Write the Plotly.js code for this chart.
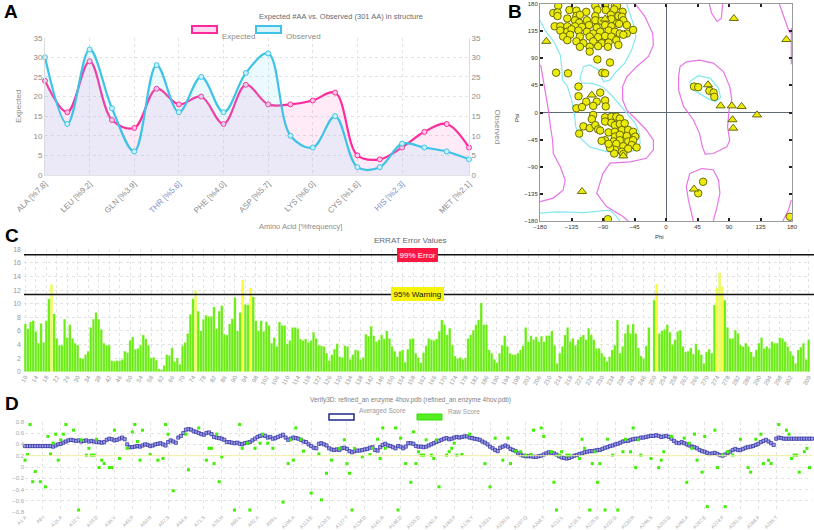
<!DOCTYPE html>
<html><head><meta charset="utf-8">
<script src="https://cdn.plot.ly/plotly-3.0.1.min.js"></script>
<style>html,body{margin:0;padding:0;background:#fff}#chart{width:814px;height:530px}</style>
</head><body><div id="chart"></div>
<script>
// ---------- Panel A data ----------
const aaIndex = [0,1,2,3,4,5,6,7,8,9,10,11,12,13,14,15,16,17,18,19];
const aaExpected = [24,16,29,14,12,22,18,20,13,23,18,18,19,21,5,4,7,11,13,7];
const aaObserved = [30,13,32,17,6,28,16,25,16,26,31,10,7,15,2,2,8,7,6,4];
const aaTickIdx = [0,2,4,6,8,10,12,14,16,19];
const aaTickText = ['ALA [%7.8]','LEU [%9.2]','GLN [%3.9]','<span style="color:#7d8fc8">THR [%5.6]</span>','PHE [%4.0]','ASP [%5.7]','LYS [%6.0]','CYS [%1.6]','<span style="color:#7d8fc8">HIS [%2.3]</span>','MET [%2.1]'];

// ---------- Panel B data (phi, psi in degrees) ----------
const ramaCirclePhi = [-154,-101,-87,-73,-70,-161,-155,-138,-128,-114,-98,-86,-74,-62,-155,-128,-123,-101,-79,-68,-63,-141,-130,-124,-113,-101,-92,-78,-61,-70,-159,-151,-141,-130,-120,-110,-99,-87,-78,-67,-56,-47,-151,-141,-135,-125,-113,-104,-94,-82,-73,-66,-56,-147,-137,-123,-109,-97,-87,-78,-61,-141,-128,-118,-104,-92,-82,-71,-68,-123,-109,-97,-83,-109,-98,-80,-157,-140,-91,-87,
 -125,-125,-94,-114,-99,-87,-128,-120,-104,-86,-104,-106,-87,-78,-71,-66,-118,-109,-101,-97,-87,-78,-73,-66,-59,-124,-94,-82,-73,-63,-54,-47,-73,-66,-56,-44,-87,-75,-66,-54,-47,-92,-71,-61,-49,-42,-73,-63,-74,-61,-80,-54,-82,
 40,46,62,68,69,53,46,-83,177];
const ramaCirclePsi = [177,177,178,178,177,165,166,170,169,167,170,170,171,167,160,160,162,160,162,160,159,156,153,149,153,153,152,155,153,148,143,143,143,143,142,145,141,145,143,147,145,137,136,134,138,136,134,131,134,136,134,131,131,126,129,126,126,125,127,126,129,120,118,115,118,115,116,120,112,109,109,110,109,101,88,83,66,65,66,65,
 43,27,33,18,18,20,7,9,11,10,-4,-11,-8,-7,-7,-10,-23,-26,-21,-28,-15,-17,-21,-19,-18,-35,-30,-33,-32,-29,-29,-32,-40,-37,-39,-40,-46,-48,-46,-48,-46,-47,-52,-56,-54,-58,-62,-65,-68,-69,-59,-60,-52,
 43,42,36,33,26,-115,-134,-177,-173];
const ramaTriPhi = [-171,-106,-87,97,172,60,78,94,108,130,95,96,-120,-61,40];
const ramaTriPsi = [118,29,155,156,121,46,11,11,10,-4,-12,-26,-131,-72,-127];
// contour outlines (null separates pieces)
const cyanPhi = [-180,-173,-159,-151,-149,-148,-141,-135,-131,-129,-124,-109,-85,-56,-42,-37,-38,-44,-56,-68,-78,-90,-104,-120,-123,-118,-109,-97,-89,-80,-71,-59,-49,-43,-46,-52,-56,null,
 -180,-156,-118,-80,-71,-66,null,
 34,46,63,75,78,71,63,52,41,35,34];
const cyanPsi = [153,137,115,95,76,54,44,21,-1,-23,-40,-57,-65,-67,-62,-51,-35,-18,-1,15,29,42,48,49,57,76,79,71,51,54,68,82,104,126,145,165,180,null,
 -167,-165,-166,-162,-172,-180,null,
 51,61,57,40,25,18,21,29,36,44,51];
const pinkPhi = [-179,-175,-171,-168,-165,-162,-161,-151,-144,-147,-161,-180,null,
 -44,-30,-19,-18,-25,-42,-56,-62,-62,-56,-42,-28,-18,-18,-28,-51,-80,-90,-99,-85,-61,-54,null,
 62,65,73,79,81,null,
 162,168,175,178,null,
 179,179,null,
 20,29,48,67.5,82,91,94,90,88,91,87,67.5,56,52,48,39,25,18,18,20,null,
 39,32,29,34,51,67.5,75,77,73,67.5,null,
 179,175,167];
const pinkPsi = [79,54,26,4,-24,-46,-68,-90,-112,-129,-142,-148,null,
 180,159,131,112,93,76,59,43,21,4,-12,-29,-46,-62,-76,-82,-84,-101,-134,-156,-173,-180,null,
 180,165,151,156,180,null,
 180,159,137,131,null,
 140,80,null,
 76,84,87,82,68,43,21,4,-24,-46,-57,-68,-69,-57,-35,-12,10,37,59,76,null,
 -180,-145,-123,-101,-93,-95,-112,-134,-156,-180,null,
 -145,-162,-180];
const ramaTicks = [-180,-135,-90,-45,0,45,90,135,180];

// ---------- Panel C data (ERRAT, residues 10..309) ----------
const erratStart = 10;
const erratValues = [
7.0,6.3,7.3,7.5,5.9,4.2,7.1,4.3,7.5,10.7,
12.8,8.5,4.9,3.9,3.9,7.7,5.0,6.9,4.9,4.2,
3.9,2.0,1.9,2.5,3.0,6.5,7.7,8.7,7.7,6.2,
4.2,3.9,3.9,1.6,1.5,1.6,1.6,1.8,3.0,2.8,
4.6,5.1,3.3,3.4,3.9,5.4,4.8,3.9,2.0,2.1,
1.7,0.4,0.3,0.9,2.5,2.4,3.5,1.5,2.0,1.1,
3.8,4.3,5.6,8.4,10.7,11.9,8.9,6.0,7.7,8.3,
8.1,8.1,9.5,6.3,8.9,9.7,5.5,5.4,7.0,7.8,
10.9,6.0,8.7,13.5,9.9,9.8,12.3,11.0,7.5,6.0,
7.5,5.9,7.3,6.8,4.2,5.0,3.7,7.3,6.8,6.8,
4.1,4.6,6.5,6.5,6.3,4.8,4.6,4.8,4.3,4.6,
5.8,4.9,3.9,3.8,3.7,2.7,1.6,2.5,3.3,4.1,
2.2,2.1,3.8,3.7,1.8,2.5,3.2,3.1,1.8,2.1,
5.5,5.2,6.7,5.3,4.4,4.7,5.4,4.8,6.0,4.9,
3.7,3.0,2.2,3.0,3.2,1.4,3.3,4.8,4.9,2.7,
2.1,1.3,2.8,3.8,4.9,4.7,4.6,4.8,5.9,7.6,6.9,5.4,6.4,3.9,2.3,1.9,2.1,1.8,2.0,
4.9,5.4,6.1,6.9,7.6,10.1,6.9,6.9,
3.2,2.7,1.8,1.3,2.7,3.9,
5.3,3.7,2.7,2.5,2.5,2.7,3.2,3.8,6.5,4.4,
5.3,4.7,5.1,4.4,5.2,4.4,5.3,5.3,6.0,
3.9,1.2,2.7,3.7,5.4,6.5,
4.4,4.9,3.9,4.7,5.1,5.4,4.7,6.4,5.4,4.7,
3.4,3.4,2.7,2.2,1.5,2.2,
3.2,3.9,7.6,2.7,3.7,
5.6,6.9,5.6,7.0,5.6,3.5,
2.3,1.9,3.8,6.5,
null,10.5,12.9,
5.6,6.0,6.2,6.9,5.8,4.0,4.7,5.9,6.1,3.7,2.9,3.0,3.5,2.6,4.1,3.2,2.5,1.2,2.9,3.3,2.7,
9.8,12.3,14.5,12.5,10.5,
6.5,4.9,4.9,6.1,5.6,3.9,3.7,4.2,3.7,2.9,2.2,3.2,4.2,5.0,3.4,3.7,3.4,4.4,4.2,4.2,5.0,4.9,4.4,3.7,3.0,2.4,1.2,3.2,3.6,4.2,1.8,4.7];
const erratWarning = 11.36;
const erratError = 17.19;

// ---------- Panel D data (Verify3D) ----------
const v3dAveraged = [
.37,.37,.37,.37,.37,.37,.37,.37,.37,.37,
.37,.36,.38,.40,.41,.43,.45,.47,.48,.47,
.46,.47,.45,.46,.47,.45,.46,.45,.44,.44,
.43,.44,.48,.50,.49,.47,.48,.50,.52,.49,
.40,.35,.35,.36,.37,.36,.38,.40,.39,.37,
.38,.40,.41,.42,.40,.38,.44,.47,.45,.43,
.52,.55,.60,.66,.67,.66,.63,.62,.60,.58,
.57,.60,.61,.58,.53,.52,.51,.50,.48,.44,
.44,.43,.42,.43,.41,.40,.42,.43,.44,.47,
.50,.53,.55,.56,.55,.52,.53,.50,.51,.53,
.55,.57,.52,.48,.50,.52,.51,.50,.48,.45,
.44,.40,.37,.34,.33,.41,.42,.40,.38,.33,
.31,.30,.31,.30,.33,.34,.32,.28,.26,.28,
.29,.29,.30,.31,.32,.34,.35,.30,.29,.35,
.39,.41,.38,.37,.35,.33,.37,.36,.33,.36,
.42,.42,.41,.37,.36,.36,.35,.36,.38,.40,
.42,.44,.46,.48,.50,.51,.49,.50,.52,.53,
.52,.53,.54,.54,.52,.51,.50,.49,.48,.45,
.43,.40,.36,.33,.30,.28,.34,.36,.38,.36,
.32,.30,.28,.24,.22,.20,.19,.19,.19,.18,
.18,.19,.20,.22,.24,.26,.25,.24,.22,.19,
.17,.16,.15,.16,.18,.20,.21,.23,.24,.26,
.27,.28,.28,.29,.30,.30,.32,.34,.35,.37,
.38,.40,.41,.43,.45,.46,.46,.48,.49,.50,
.50,.52,.52,.53,.54,.55,.55,.56,.55,.53,
.54,.55,.53,.50,.46,.43,.42,.44,.42,.40,
.38,.36,.35,.33,.30,.28,.27,.25,.23,.24,
.25,.23,.21,.20,.22,.25,.27,.30,.32,.30,
.30,.32,.34,.35,.36,.37,.39,.41,.44,.46,
.48,.45,.42,.39,.50,.52,.51,.50,.50,.50,
.50,.50,.50,.50,.50,.50,.50,.50,.50];
const v3dRawResidue = [1,2,3,4,5,7,9,10,11,12,13,14,15,16,17,20,22,23,25,26,27,28,29,30,31,32,34,35,36,38,41,43,44,45,46,47,50,53,55,56,57,59,64,65,69,72,73,74,75,76,77,78,83,85,86,88,89,91,93,94,96,98,102,104,105,106,107,109,110,113,116,117,119,121,124,126,127,128,129,130,133,136,137,139,140,141,142,146,147,
 148,150,152,153,154,155,156,157,158,160,161,162,163,166,167,168,169,170,172,175,181,183,185,188,190,191,193,195,197,199,200,203,204,207,208,209,210,211,213,214,218,219,220,222,223,224,225,226,228,229,231,233,235,236,238,239,240,241,242,246,249,250,251,254,259,260,261,262,263,264,266,267,268,271,272,274,275,276,278,281,284,285,287,289,290,292,293,296,299,300,301,302,303,304,306,307,308];
const v3dRawScore = [.12,.22,.75,-.26,-.08,-.26,-.35,.54,.23,.42,.58,.12,.48,.58,.75,.65,-.76,.48,.21,.33,.21,.21,.49,-.01,.12,.06,-.01,-.01,.65,.15,.33,.62,.75,.45,.12,.65,.22,.12,.15,.75,.58,-.42,.58,-.05,.69,.12,.33,.33,.06,.58,-.26,.18,-.76,.75,.33,.42,-.76,.33,.42,.58,.42,.33,-.62,.06,.48,.12,.69,.49,.28,-.46,.23,-.58,-.11,.12,.33,.48,.06,-.11,-.76,.33,.18,.22,.33,.49,.15,.69,.33,.69,-.76,
 .51,.06,-.27,.62,.06,.27,.21,.21,.48,.21,.15,.48,-.35,.21,.27,.33,.42,.21,.22,.58,.06,-.35,.51,.12,.51,.06,.28,.27,.21,.22,.65,.69,.54,.27,-.27,-.76,.21,.27,.21,.21,.15,.49,.33,-.76,.06,.27,-.27,.06,-.76,.49,.21,-.76,.27,.49,.27,.69,-.01,.48,.21,.15,-.01,.12,.27,.54,.51,-.27,.42,.33,.58,.12,-.09,.54,-.70,.65,-.01,.21,-.70,.27,.21,.49,-.01,-.09,.49,.58,.06,.12,.06,.75,.65,.58,.15,.21,.21,-.09,.27,.33,-.01];
const v3dPass = 0.2;
const v3dTickRes = [1,8,15,22,29,36,43,50,57,64,71,78,85,92,99,106,113,120,127,134,141,148,155,162,169,176,183,190,197,204,211,218,225,232,239,246,253,260,267,274,281,288,295,309];
const v3dTickText = ['A1:A','A8:I','A15:A','A22:V','A29:D','A36:V','A43:P','A50:R','A57:S','A64:A','A71:S','A78:H','A85:L','A92:A','A99:L','A106:A','A113:E','A120:S','A127:T','A134:D','A141:R','A148:D','A155:D','A162:A','A169:P','A176:Y','A183:L','A190:N','A197:Q','A204:T','A211:L','A218:S','A225:N','A232:G','A239:R','A246:S','A253:G','A260:A','A267:E','A274:F','A281:N','A288:F','A295:T','A309:L'];

// ---------- helpers (pixel -> paper) ----------
const W = 814, H = 530;
const X = p => p / W;
const Y = p => 1 - p / H;
const FONT = 'Liberation Sans, Arial, sans-serif';

const erratResidues = erratValues.map((v, i) => erratStart + i);
const erratColors = erratValues.map(v => (v !== null && v > erratWarning) ? 'rgb(255,250,60)' : 'rgb(105,235,20)');
const erratTickVals = [];
for (let r = 10; r <= 302; r += 4) erratTickVals.push(r);
erratTickVals.push(309);
const v3dResidue = v3dAveraged.map((v, i) => i + 1);

const traces = [
  {x: aaIndex, y: aaExpected, xaxis:'x', yaxis:'y', type:'scatter', mode:'lines+markers',
   line:{shape:'spline', smoothing:1, color:'#ff2b9d', width:2.2}, fill:'tozeroy', fillcolor:'rgba(255,110,205,0.14)',
   marker:{size:5, color:'#ffc6e6', line:{color:'#ff2b9d', width:1}}, cliponaxis:false, showlegend:false, hoverinfo:'skip'},
  {x: aaIndex, y: aaObserved, xaxis:'x', yaxis:'y2', type:'scatter', mode:'lines+markers',
   line:{shape:'spline', smoothing:1, color:'#3ec3e6', width:2.2}, fill:'tozeroy', fillcolor:'rgba(110,220,240,0.14)',
   marker:{size:5, color:'#c9f1fb', line:{color:'#3ec3e6', width:1}}, cliponaxis:false, showlegend:false, hoverinfo:'skip'},
  {x: pinkPhi, y: pinkPsi, xaxis:'x3', yaxis:'y3', type:'scatter', mode:'lines', line:{color:'#e874e6', width:1.2}, showlegend:false, hoverinfo:'skip', connectgaps:false},
  {x: cyanPhi, y: cyanPsi, xaxis:'x3', yaxis:'y3', type:'scatter', mode:'lines', line:{color:'#84e8ee', width:1.2}, showlegend:false, hoverinfo:'skip', connectgaps:false},
  {x: ramaCirclePhi, y: ramaCirclePsi, xaxis:'x3', yaxis:'y3', type:'scatter', mode:'markers',
   marker:{symbol:'circle', size:7.5, color:'#ecec0c', line:{color:'#5c5c00', width:0.9}}, showlegend:false, hoverinfo:'skip', cliponaxis:true},
  {x: ramaTriPhi, y: ramaTriPsi, xaxis:'x3', yaxis:'y3', type:'scatter', mode:'markers',
   marker:{symbol:'triangle-up', size:8, color:'#ecec0c', line:{color:'#5c5c00', width:0.9}}, showlegend:false, hoverinfo:'skip', cliponaxis:true},
  {x: erratResidues, y: erratValues, xaxis:'x4', yaxis:'y4', type:'bar',
   marker:{color: erratColors, line:{color:'rgba(190,255,140,0.7)', width:0.4}}, showlegend:false, hoverinfo:'skip'},
  {x: v3dResidue, y: v3dAveraged, xaxis:'x5', yaxis:'y5', type:'scatter', mode:'markers',
   marker:{symbol:'square', size:3.2, color:'rgba(150,150,235,0.9)', line:{color:'#2b2b9a', width:0.7}}, showlegend:false, hoverinfo:'skip', cliponaxis:false},
  {x: v3dRawResidue, y: v3dRawScore, xaxis:'x5', yaxis:'y5', type:'scatter', mode:'markers',
   marker:{symbol:'square', size:3, color:'#3ff000'}, showlegend:false, hoverinfo:'skip', cliponaxis:false}
];

const gridA = {showgrid:true, gridcolor:'#e3e3e3', griddash:'dot', gridwidth:1, zeroline:false};
const tfA = {family:FONT, size:8, color:'#8c8c8c'};

const layout = {
  width: W, height: H, margin:{l:0,r:0,t:0,b:0}, paper_bgcolor:'#fff', plot_bgcolor:'rgba(0,0,0,0)',
  font:{family:FONT}, showlegend:false,
  xaxis: Object.assign({}, gridA, {domain:[X(45),X(469)], range:[0,19], anchor:'y', tickmode:'array', tickvals:aaTickIdx, ticktext:aaTickText, tickangle:-45, tickfont:tfA, ticks:'', showline:true, linecolor:'#e3e3e3'}),
  yaxis: Object.assign({}, gridA, {domain:[Y(175),Y(37.7)], range:[0,35], dtick:5, anchor:'x', tickfont:tfA, ticks:'', showline:true, linecolor:'#dcdcdc',
          title:{text:'Expected', font:{family:FONT, size:8, color:'#8c8c8c'}, standoff:10}}),
  yaxis2: {overlaying:'y', side:'right', anchor:'x', range:[0,35], dtick:5, showgrid:false, zeroline:false, tickfont:tfA, ticks:'', showline:true, linecolor:'#dcdcdc'},
  xaxis3: {domain:[X(540),X(792)], range:[-180,180], anchor:'y3', tickmode:'array', tickvals:ramaTicks, tickfont:{family:FONT, size:6, color:'#333'},
           ticks:'inside', ticklen:3, tickwidth:2, tickcolor:'#222', mirror:'allticks', showline:true, linecolor:'#9a9a9a', linewidth:1,
           showgrid:false, zeroline:true, zerolinecolor:'#5d6b78', zerolinewidth:1},
  yaxis3: {domain:[Y(221),Y(4)], range:[-180,180], anchor:'x3', tickmode:'array', tickvals:ramaTicks, tickfont:{family:FONT, size:6, color:'#333'},
           ticks:'inside', ticklen:3, tickwidth:2, tickcolor:'#222', mirror:'allticks', showline:true, linecolor:'#9a9a9a', linewidth:1,
           showgrid:false, zeroline:true, zerolinecolor:'#5d6b78', zerolinewidth:1},
  xaxis4: Object.assign({}, gridA, {domain:[X(24),X(810)], range:[9.5,309.5], anchor:'y4', tickmode:'array', tickvals:erratTickVals, tickangle:-60,
           tickfont:{family:FONT, size:6, color:'#9a9a9a'}, ticks:'', showline:false}),
  yaxis4: Object.assign({}, gridA, {domain:[Y(371.7),Y(249.3)], range:[0,18], dtick:2, anchor:'x4', tickfont:{family:FONT, size:7, color:'#9a9a9a'}, ticks:'', ticklabelstandoff:2}),
  xaxis5: Object.assign({}, gridA, {domain:[X(25),X(812)], range:[1,309], anchor:'y5', tickmode:'array', tickvals:v3dTickRes, ticktext:v3dTickText, tickangle:-45,
           tickfont:{family:FONT, size:5, color:'#a8a8a8'}, ticks:'', showline:false}),
  yaxis5: Object.assign({}, gridA, {domain:[Y(512.3),Y(421.7)], range:[-0.8,0.8], dtick:0.2, anchor:'x5', tickfont:{family:FONT, size:6, color:'#a8a8a8'}, ticks:'', tickformat:'.1~f'}),
  bargap: 0.12,
  shapes: [
    {type:'rect', xref:'paper', yref:'paper', x0:X(192), x1:X(217), y0:Y(33), y1:Y(26), line:{color:'#ff2b9d', width:2}, fillcolor:'rgba(255,180,225,0.5)'},
    {type:'rect', xref:'paper', yref:'paper', x0:X(256), x1:X(281), y0:Y(33), y1:Y(26), line:{color:'#3ec3e6', width:2}, fillcolor:'rgba(180,235,248,0.5)'},
    {type:'line', xref:'paper', yref:'y4', x0:X(24), x1:1, y0:erratError, y1:erratError, line:{color:'#111', width:1.6}},
    {type:'line', xref:'paper', yref:'y4', x0:X(24), x1:1, y0:erratWarning, y1:erratWarning, line:{color:'#111', width:1.6}},
    {type:'line', xref:'x5 domain', yref:'y5', x0:0, x1:1, y0:v3dPass, y1:v3dPass, line:{color:'rgba(240,240,160,0.9)', width:1}},
    {type:'rect', xref:'paper', yref:'paper', x0:X(329), x1:X(354), y0:Y(420), y1:Y(414), line:{color:'#1e2a8a', width:1.5}, fillcolor:'#fff'},
    {type:'rect', xref:'paper', yref:'paper', x0:X(417), x1:X(442), y0:Y(420), y1:Y(414), line:{color:'#33dd00', width:1}, fillcolor:'#55ee22'}
  ],
  annotations: [
    {text:'<b>A</b>', x:X(2), y:Y(12), xref:'paper', yref:'paper', xanchor:'left', yanchor:'middle', showarrow:false, font:{family:FONT, size:19, color:'#000'}},
    {text:'<b>B</b>', x:X(506), y:Y(12), xref:'paper', yref:'paper', xanchor:'left', yanchor:'middle', showarrow:false, font:{family:FONT, size:19, color:'#000'}},
    {text:'<b>C</b>', x:X(3), y:Y(235), xref:'paper', yref:'paper', xanchor:'left', yanchor:'middle', showarrow:false, font:{family:FONT, size:19, color:'#000'}},
    {text:'<b>D</b>', x:X(3), y:Y(403), xref:'paper', yref:'paper', xanchor:'left', yanchor:'middle', showarrow:false, font:{family:FONT, size:19, color:'#000'}},
    {text:'Expected #AA vs. Observed (301 AA) in structure', x:X(257), y:Y(10), xref:'paper', yref:'paper', showarrow:false, font:{family:FONT, size:7.5, color:'#5f6b73'}},
    {text:'Expected', x:X(220), y:Y(29.5), xref:'paper', yref:'paper', xanchor:'left', showarrow:false, font:{family:FONT, size:8, color:'#8c8c8c'}},
    {text:'Observed', x:X(284), y:Y(29.5), xref:'paper', yref:'paper', xanchor:'left', showarrow:false, font:{family:FONT, size:8, color:'#8c8c8c'}},
    {text:'Observed', x:X(497), y:Y(107), xref:'paper', yref:'paper', textangle:90, showarrow:false, font:{family:FONT, size:8, color:'#8c8c8c'}},
    {text:'Amino Acid [%frequency]', x:X(257), y:Y(226), xref:'paper', yref:'paper', showarrow:false, font:{family:FONT, size:7.5, color:'#8c8c8c'}},
    {text:'Phi', x:X(666), y:Y(237), xref:'paper', yref:'paper', showarrow:false, font:{family:FONT, size:6, color:'#333'}},
    {text:'Psi', x:X(517), y:Y(112), xref:'paper', yref:'paper', textangle:-90, showarrow:false, font:{family:FONT, size:6, color:'#333'}},
    {text:'ERRAT Error Values', x:X(410), y:Y(240.5), xref:'paper', yref:'paper', showarrow:false, font:{family:FONT, size:8, color:'#5f6b73'}},
    {text:'99% Error', x:X(417), y:erratError, xref:'paper', yref:'y4', showarrow:false, bgcolor:'#ff1744', bordercolor:'#ff1744', borderpad:1.5, font:{family:FONT, size:8, color:'#fff'}},
    {text:'95% Warning', x:X(417), y:erratWarning, xref:'paper', yref:'y4', showarrow:false, bgcolor:'#f7f20c', bordercolor:'#f7f20c', borderpad:1.5, font:{family:FONT, size:8, color:'#111'}},
    {text:'Verify3D: refined_an enzyme 4hov.pdb (refined_an enzyme 4hov.pdb)', x:X(410), y:Y(405.5), xref:'paper', yref:'paper', showarrow:false, font:{family:FONT, size:6.5, color:'#7a8288'}},
    {text:'Averaged Score', x:X(357), y:Y(417), xref:'paper', yref:'paper', xanchor:'left', showarrow:false, font:{family:FONT, size:6.5, color:'#9a9a9a'}},
    {text:'Raw Score', x:X(446), y:Y(417), xref:'paper', yref:'paper', xanchor:'left', showarrow:false, font:{family:FONT, size:6.5, color:'#9a9a9a'}}
  ]
};

Plotly.newPlot('chart', traces, layout, {staticPlot:true, displayModeBar:false});
</script></body></html>
